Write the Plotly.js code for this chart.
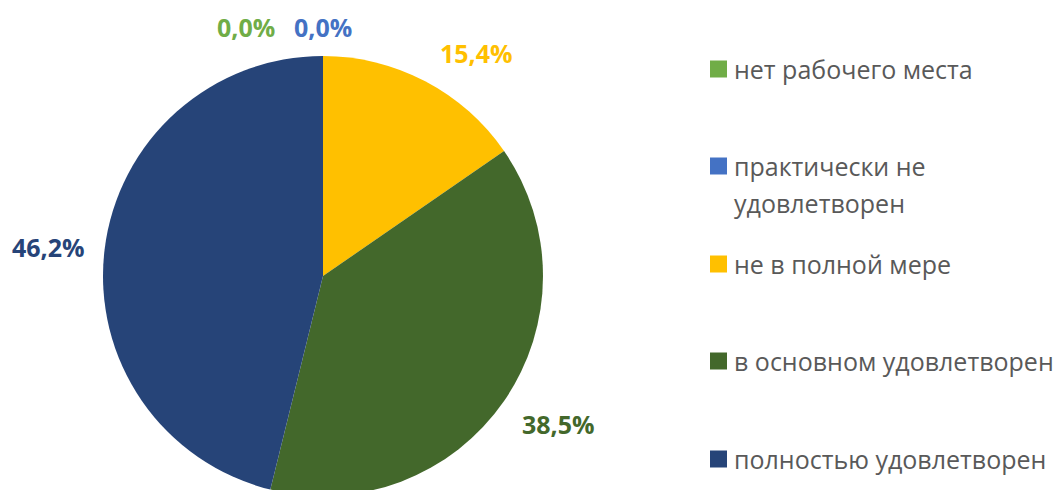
<!DOCTYPE html>
<html>
<head>
<meta charset="utf-8">
<script src="https://cdn.plot.ly/plotly-3.0.1.min.js"></script>
<style>
html,body{margin:0;padding:0;overflow:hidden;background:#fff;}
#chart{width:1064px;height:500px;}
</style>
</head>
<body>
<div id="chart"></div>
<script>
// Data
const categories = ["нет рабочего места", "практически не<br>удовлетворен", "не в полной мере", "в основном удовлетворен", "полностью удовлетворен"];
const values = [0, 0, 2, 5, 6];
const colors = ["#70AD47", "#4472C4", "#FFC000", "#43682B", "#264478"];

const W = 1064, H = 500;
const px = x => x / W;
const py = y => 1 - y / H;

const total = values.reduce((a, b) => a + b, 0);
const pctText = values.map(v => (v / total * 100).toFixed(1).replace('.', ',') + '%');

// data label positions (pixel centers)
const labelPos = [[246, 27], [323, 27], [476, 53], [558, 424], [48, 247]];
// legend positions
const legendRows = [69, 166, 264, 361, 459];
const lineGap = 37;

const annotations = [];
const shapes = [];
const font = "'Open Sans', 'Noto Sans', sans-serif";

values.forEach((v, i) => {
  annotations.push({
    xref: 'paper', yref: 'paper', x: px(labelPos[i][0]), y: py(labelPos[i][1]),
    xanchor: 'center', yanchor: 'middle', showarrow: false,
    text: '<b>' + pctText[i] + '</b>',
    font: {family: font, size: 25, color: colors[i]}
  });
});

categories.forEach((c, i) => {
  const y0 = legendRows[i];
  shapes.push({
    type: 'rect', xref: 'paper', yref: 'paper',
    x0: px(710), x1: px(727), y0: py(y0 - 8.5), y1: py(y0 + 8.5),
    fillcolor: colors[i], line: {width: 0}
  });
  c.split('<br>').forEach((line, j) => {
    annotations.push({
      xref: 'paper', yref: 'paper', x: px(732), y: py(y0 + j * lineGap),
      xanchor: 'left', yanchor: 'middle', showarrow: false,
      text: line,
      font: {family: font, size: 25, color: '#595959'}
    });
  });
});

const trace = {
  type: 'pie',
  labels: categories,
  values: values,
  marker: {colors: colors, line: {width: 0}},
  sort: false,
  direction: 'clockwise',
  rotation: 0,
  textinfo: 'none',
  hoverinfo: 'label+percent',
  showlegend: false,
  domain: {x: [px(103), px(543)], y: [py(496), py(56)]}
};

const layout = {
  width: W, height: H,
  margin: {l: 0, r: 0, t: 0, b: 0},
  paper_bgcolor: '#fff',
  showlegend: false,
  annotations: annotations,
  shapes: shapes
};

Plotly.newPlot('chart', [trace], layout, {displayModeBar: false, staticPlot: true});
</script>
</body>
</html>
